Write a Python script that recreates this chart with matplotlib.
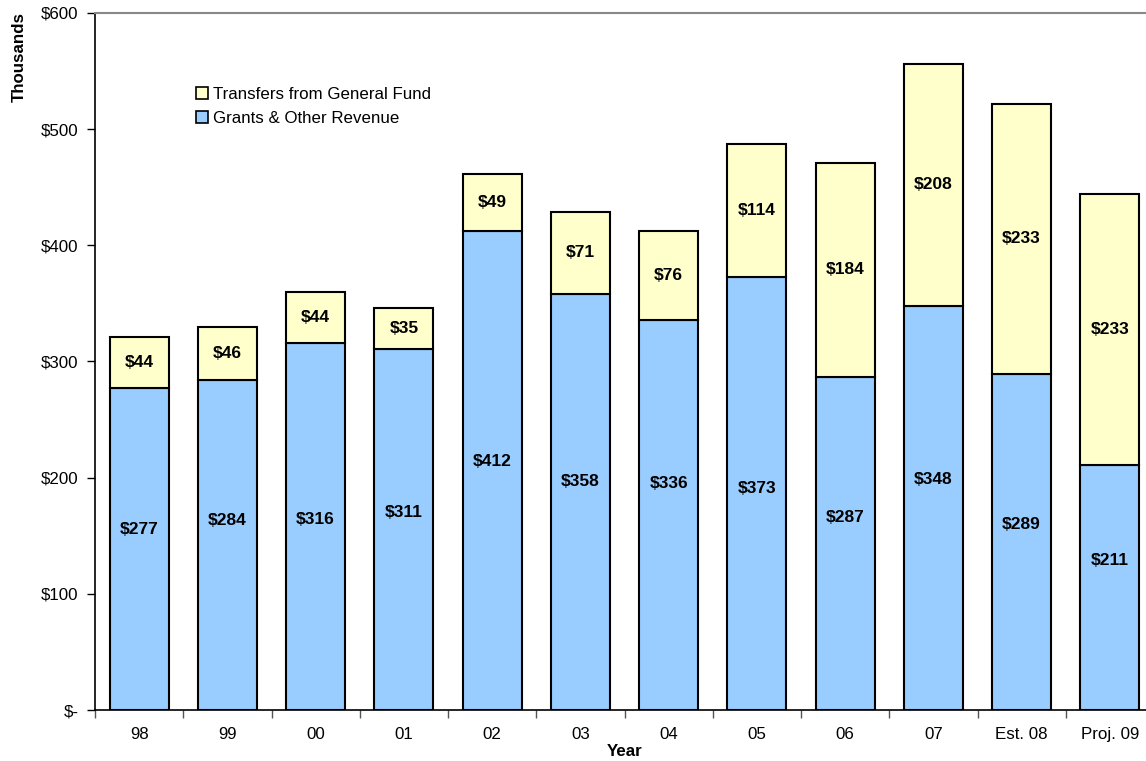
import matplotlib
matplotlib.use("Agg")
import matplotlib.pyplot as plt
import numpy as np

plt.rcParams['font.family'] = ['Liberation Sans', 'DejaVu Sans']

years = ["98", "99", "00", "01", "02", "03", "04", "05", "06", "07", "Est. 08", "Proj. 09"]
grants = [277, 284, 316, 311, 412, 358, 336, 373, 287, 348, 289, 211]
transfers = [44, 46, 44, 35, 49, 71, 76, 114, 184, 208, 233, 233]
y_ticks = [0, 100, 200, 300, 400, 500, 600]
y_tick_labels = ["$-", "$100", "$200", "$300", "$400", "$500", "$600"]

# vertical placement of the grant value labels (data units)
grant_label_y = [155, 163, 164, 170, 214, 197, 195, 191, 166, 198, 160, 129]

blue = "#99CCFF"
yellow = "#FFFFCC"

fig = plt.figure(figsize=(11.46, 7.61), dpi=100)
ax = fig.add_axes([95 / 1146, 1 - 710 / 761, (1154 - 95) / 1146, (710 - 13) / 761])

x = np.arange(len(years))
width = 0.67
b1 = ax.bar(x, grants, width, color=blue, edgecolor="black", linewidth=1.5,
            label="Grants & Other Revenue", zorder=3)
b2 = ax.bar(x, transfers, width, bottom=grants, color=yellow, edgecolor="black",
            linewidth=1.5, label="Transfers from General Fund", zorder=3)

for xi, g, t, gy in zip(x, grants, transfers, grant_label_y):
    ax.text(xi, gy, f"${g}", ha="center", va="center", fontsize=12.5,
            fontweight="bold", zorder=4)
    ax.text(xi, g + t / 2, f"${t}", ha="center", va="center", fontsize=12.5,
            fontweight="bold", zorder=4)

ax.set_xlim(-0.5, len(years) - 0.5)
ax.set_ylim(0, 600)
ax.set_yticks(y_ticks)
ax.set_yticklabels(y_tick_labels, fontsize=12.2)
ax.set_xticks(x)
ax.set_xticklabels(years, fontsize=12.2)
ax.set_xticks(np.arange(len(years) + 1) - 0.5, minor=True)
ax.tick_params(axis="x", which="major", length=0, pad=12)
ax.tick_params(axis="x", which="minor", length=6, width=1, color="#555555")
ax.tick_params(axis="y", length=6, width=1, pad=6)

ax.spines["left"].set_color("black")
ax.spines["left"].set_linewidth(1.2)
ax.spines["bottom"].set_color("black")
ax.spines["bottom"].set_linewidth(1.2)
ax.spines["top"].set_color("#888888")
ax.spines["top"].set_linewidth(1.5)
ax.spines["right"].set_color("#888888")

ax.set_xlabel("Year", fontsize=12.2, fontweight="bold")
ax.xaxis.set_label_coords(0.5, -0.049)
ax.set_ylabel("Thousands", fontsize=12.2, fontweight="bold")
ax.yaxis.set_label_coords(-0.064, 0.937)

handles = [b2, b1]
leg = ax.legend(handles, [h.get_label() for h in handles], loc="upper left",
                bbox_to_anchor=(0.087, 0.906), frameon=False, fontsize=12.2,
                handlelength=0.75, handleheight=0.75, handletextpad=0.25,
                labelspacing=0.5, borderpad=0)
for p in leg.get_patches():
    p.set_linewidth(1.2)

fig.savefig("out.png", dpi=100)
